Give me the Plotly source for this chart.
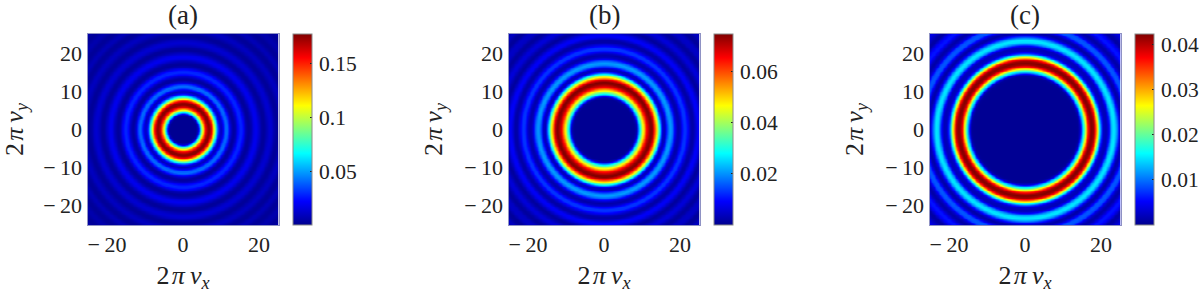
import numpy as np
import plotly.graph_objects as go

# Radial intensity profiles, at radius 0, 0.5, 1.0, ...
profile_a = [.0005]*7 + [.001,.012,.06,.095,.135,.16,.175,.175,.155,.12,.08,.045,.018,.008,.02,.038,.041,.028,.012,.003,.004,
             .012,.023,.029,.027,.018,.007,.002,.003,.008,.015,.019,.017,.011,.005,.002,.003,.008,.012,.013,.010,.005,
             .002,.002,.005,.008,.010,.008,.004,.002,.002,.005,.008,.007,.004,.002,.002,.004,.006,.006,.004,.002,.002,.004,.005,.004]
profile_b = [.0003]*17 + [.003,.016,.031,.041,.051,.062,.069,.0735,.0745,.068,.056,.043,.030,.014,.004,.004,.012,.019,.021,.017,
             .010,.004,.002,.004,.009,.013,.013,.009,.005,.002,.002,.005,.0085,.0085,.006,.003,.001,.002,.004,.006,.006,.004,
             .002,.001,.002,.004,.0045,.0045,.003,.001,.001,.002,.004,.004,.003,.002,.001,.001]
profile_c = [.0002]*28 + [.0005,.003,.012,.018,.027,.036,.041,.0424,.041,.036,.0265,.017,.008,.003,.002,.002,.005,.011,.0145,
             .015,.012,.007,.003,.001,.002,.005,.0085,.009,.008,.004,.002,.001,.002,.004,.006,.006,.005,.003,.001,.001,.002,
             .003,.004,.004,.003,.002,.001]
profiles = [profile_a, profile_b, profile_c]

panel_titles = ["(a)", "(b)", "(c)"]
axis_ticks = [-20, 0, 20]
axis_y_ticks = [-20, -10, 0, 10, 20]
cbar_ticks = [[0.05, 0.1, 0.15], [0.02, 0.04, 0.06], [0.01, 0.02, 0.03, 0.04]]
cbar_text = [["0.05", "0.1", "0.15"], ["0.02", "0.04", "0.06"], ["0.01", "0.02", "0.03", "0.04"]]
cbar_max = [0.177, 0.0745, 0.0424]
half_range = 25.13

W, H = 1200, 293
plot_left = [87.5, 508.5, 929.5]
cbar_left = [293, 714, 1134.5]
plot_w = 191
top = 34
FONT = "Liberation Serif"
INK = "#222222"
JET = [[0, "#00008F"], [0.125, "#0000FF"], [0.375, "#00FFFF"], [0.625, "#FFFF00"], [0.875, "#FF0000"], [1, "#800000"]]

fig = go.Figure()
grid = np.linspace(-half_range, half_range, 240)
X, Y = np.meshgrid(grid, grid)
R = np.hypot(X, Y)

for i, prof in enumerate(profiles):
    radii = np.arange(len(prof)) * 0.5
    z = np.interp(R, radii, prof)
    n = "" if i == 0 else str(i + 1)
    fig.add_trace(go.Heatmap(
        x=grid, y=grid, z=z, xaxis="x" + n, yaxis="y" + n, colorscale=JET, zmin=0, zmax=cbar_max[i],
        zsmooth="best", hoverinfo="skip",
        colorbar=dict(x=cbar_left[i] / W, xanchor="left", xpad=0, y=1 - (top + plot_w / 2) / H, yanchor="middle",
                      ypad=0, lenmode="pixels", len=plot_w, thickness=19, thicknessmode="pixels",
                      outlinecolor="#8a8a8a", outlinewidth=1, ticks="inside", ticklen=2, tickcolor="#222222", tickwidth=1,
                      tickmode="array", tickvals=cbar_ticks[i], ticktext=["\u200a" + t for t in cbar_text[i]],
                      tickfont=dict(family=FONT, size=21.5, color=INK)),
    ))
    ax = dict(range=[-half_range, half_range], showgrid=False, zeroline=False, showline=True, mirror=True,
              linecolor="#8f92c4", linewidth=1, ticks="", tickfont=dict(family=FONT, size=22, color=INK), tickmode="array")
    xa = dict(ax, domain=[plot_left[i] / W, (plot_left[i] + plot_w) / W], anchor="y" + n, tickvals=axis_ticks,
              ticktext=["\u2212\u200920", "0", "20"],
              title=dict(text="2\u200a<i>\u03c0\u2009\u03bd</i><sub><i>x</i></sub>", font=dict(family=FONT, size=26, color=INK), standoff=14))
    ya = dict(ax, domain=[1 - (top + plot_w) / H, 1 - top / H], anchor="x" + n, tickvals=axis_y_ticks,
              ticktext=["\u2212\u200920", "\u2212\u200910", "0", "10", "20"],
              title=dict(text="2\u200a<i>\u03c0\u2009\u03bd</i><sub><i>y</i></sub>", font=dict(family=FONT, size=26, color=INK), standoff=14))
    fig.update_layout({"xaxis" + n: xa, "yaxis" + n: ya})
    fig.add_annotation(text=panel_titles[i], x=(plot_left[i] + plot_w / 2) / W, y=1 - 15 / H, xref="paper", yref="paper",
                       showarrow=False, xanchor="center", yanchor="middle", font=dict(family=FONT, size=27, color=INK))

fig.update_layout(width=W, height=H, margin=dict(l=0, r=0, t=0, b=0, autoexpand=False), paper_bgcolor="white", plot_bgcolor="white",
                  showlegend=False)
fig.write_html("out.html", config={"displayModeBar": False},
               post_script="document.body.style.margin='0';document.documentElement.style.overflow='hidden';")
